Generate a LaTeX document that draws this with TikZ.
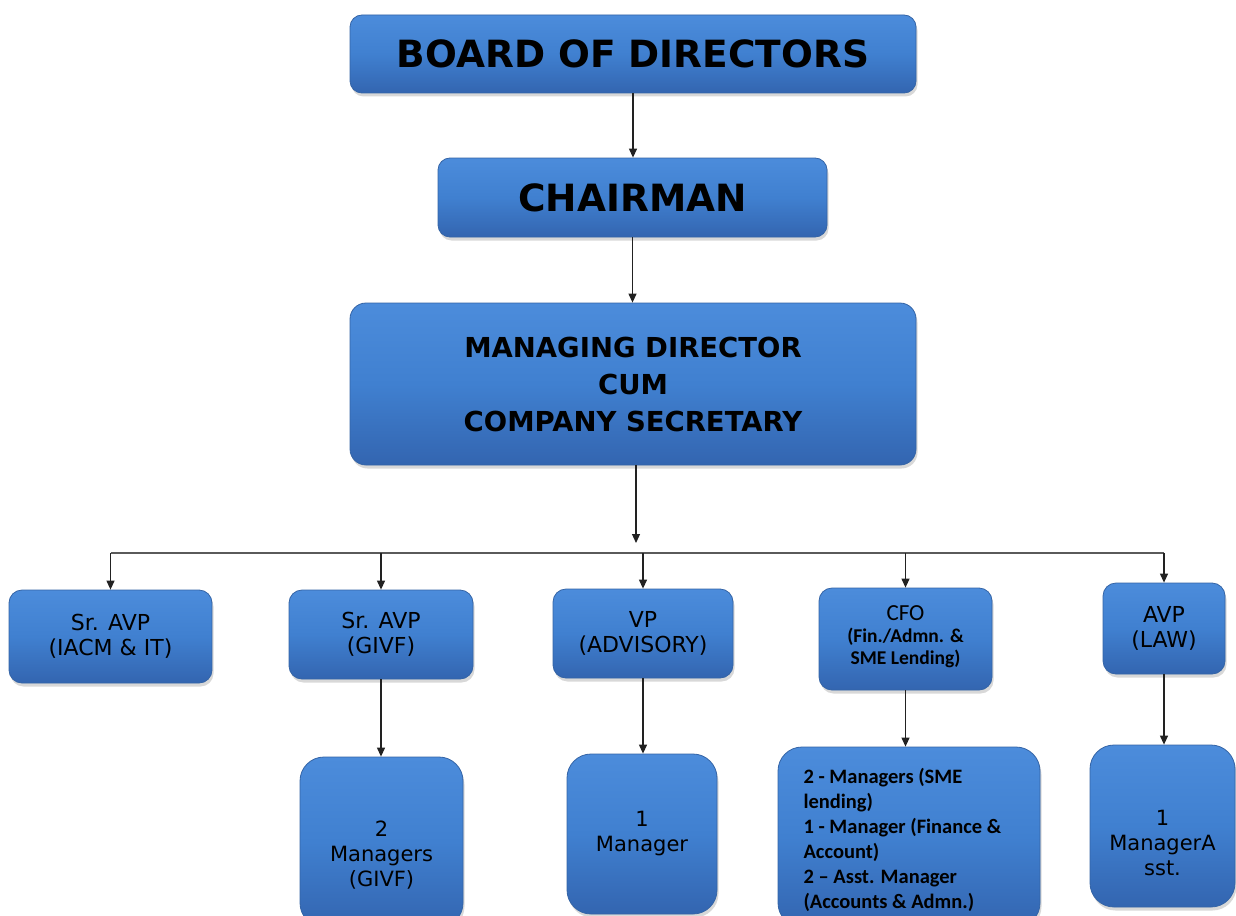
\documentclass[tikz,border=0pt]{standalone}
\usepackage{fontspec}
\setmainfont{DejaVu Sans}
\newfontfamily\calfont{Carlito}
\usetikzlibrary{arrows.meta,shadows}

\definecolor{boxtop}{HTML}{4C8CDB}
\definecolor{boxmid}{HTML}{4080D0}
\definecolor{boxbot}{HTML}{3365B0}
\definecolor{boxedge}{HTML}{3464A6}
\definecolor{linkcol}{HTML}{222222}
\definecolor{buscol}{HTML}{5A5A5A}

\tikzset{
  orgbox/.style={rectangle, rounded corners=#1,
    top color=boxtop, bottom color=boxbot, middle color=boxmid,
    draw=boxedge, line width=0.8pt,
    drop shadow={shadow xshift=1.5pt, shadow yshift=-3.5pt, opacity=0.3},
    inner sep=0pt, align=center, text=black},
  orgbox/.default=12pt,
  link/.style={draw=linkcol, line width=1.2pt, -{Triangle[length=9pt,width=8pt]}},
  bus/.style={draw=buscol, line width=1.4pt},
  topfont/.style={font=\fontsize{37.5}{44}\selectfont\bfseries},
  mdfont/.style={font=\fontsize{27.5}{37}\selectfont\bfseries},
  midfont/.style={font=\fontsize{22}{25}\selectfont},
  lowfont/.style={font=\fontsize{21}{25}\selectfont},
  cfofont/.style={font=\calfont\fontsize{19.5}{22}\selectfont\bfseries},
  stafffont/.style={font=\calfont\fontsize{20.5}{25}\selectfont\bfseries},
}

\begin{document}
\begin{tikzpicture}[x=1pt,y=-1pt]
  \fill[white] (0,0) rectangle (1236,915);
  \useasboundingbox (0,0) rectangle (1236,915);

  % top of the hierarchy
  \node[orgbox, topfont, minimum width=566pt, minimum height=78pt] (bod) at (633,54) {BOARD OF DIRECTORS};
  \node[orgbox, topfont, minimum width=389pt, minimum height=79pt] (chair) at (632.5,197.5) {CHAIRMAN};
  \node[orgbox=16pt, mdfont, minimum width=566pt, minimum height=162pt] (md) at (633,384)
    {MANAGING DIRECTOR\\CUM\\COMPANY SECRETARY};

  % second level
  \node[orgbox=13pt, midfont, minimum width=203pt, minimum height=93pt] (avpit) at (110.5,636.5) {Sr. AVP\\(IACM \& IT)};
  \node[orgbox=13pt, midfont, minimum width=184pt, minimum height=89pt] (avpgivf) at (381,634.5) {Sr. AVP\\(GIVF)};
  \node[orgbox=13pt, midfont, minimum width=180pt, minimum height=89pt] (vp) at (643,633.5) {VP\\(ADVISORY)};
  \node[orgbox=13pt, minimum width=173pt, minimum height=102pt] (cfo) at (905.5,639) {};
  \node[cfofont, align=center] (cfotext) at (905.5,637)
    {{\fontsize{23}{26}\selectfont\mdseries CFO}\\(Fin./Admn. \&\\SME Lending)};
  \node[orgbox=13pt, midfont, minimum width=122pt, minimum height=91pt] (law) at (1164,628.5) {AVP\\(LAW)};

  % third level
  \node[orgbox=24pt, minimum width=163pt, minimum height=170pt] (mgrgivf) at (381.5,842) {};
  \node[lowfont, align=center] (mgrgivftext) at (381.5,855) {2\\Managers\\(GIVF)};
  \node[orgbox=24pt, lowfont, minimum width=150pt, minimum height=160pt] (mgradv) at (642,834) {1\\Manager};
  \node[orgbox=24pt, minimum width=262pt, minimum height=180pt] (cfostaff) at (909,837) {};
  \node[stafffont, align=left, anchor=west] (cfostafftext) at (800,840)
    {2 - Managers (SME\\lending)\\1 - Manager (Finance \&\\Account)\\2 – Asst. Manager\\(Accounts \& Admn.)};
  \node[orgbox=24pt, minimum width=145pt, minimum height=162pt] (mgrlaw) at (1162.5,826) {};
  \node[lowfont, align=center] (mgrlawtext) at (1162.5,843) {1\\ManagerA\\sst.};

  % connectors down the chain of command
  \draw[link] (bod.south) -- (bod.south |- chair.north);
  \draw[link] (chair.south) -- (chair.south |- md.north);
  \coordinate (mdend) at (636,543);
  \draw[link] (md.south -| mdend) -- (mdend);

  % distribution bus to the second level
  \coordinate (busy) at (0,553);
  \draw[bus] (avpit.north |- busy) -- (law.north |- busy);
  \draw[link] (avpit.north |- busy) -- (avpit.north);
  \draw[link] (avpgivf.north |- busy) -- (avpgivf.north);
  \draw[link] (vp.north |- busy) -- (vp.north);
  \draw[link] (cfo.north |- busy) -- (cfo.north);
  \draw[link] (law.north |- busy) -- (law.north);

  % second to third level
  \draw[link] (avpgivf.south) -- (avpgivf.south |- mgrgivf.north);
  \draw[link] (vp.south) -- (vp.south |- mgradv.north);
  \draw[link] (cfo.south) -- (cfo.south |- cfostaff.north);
  \draw[link] (law.south) -- (law.south |- mgrlaw.north);
\end{tikzpicture}
\end{document}
